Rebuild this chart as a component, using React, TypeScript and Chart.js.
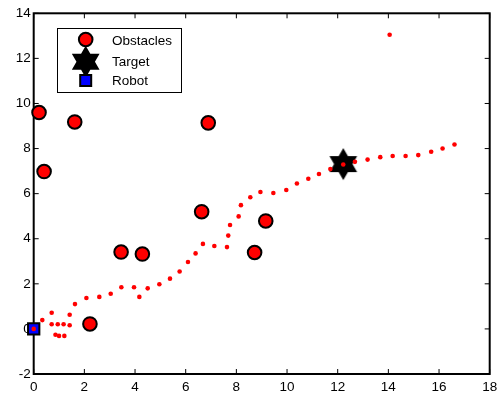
import React, { useEffect, useRef } from "react";
import { Chart, registerables } from "chart.js";
Chart.register(...registerables);

const xTicks = [0, 2, 4, 6, 8, 10, 12, 14, 16, 18];
const yTicks = [-2, 0, 2, 4, 6, 8, 10, 12, 14];

const obstacleX = [0.21, 0.41, 1.62, 6.89, 6.63, 3.45, 4.29, 2.22, 8.72, 9.16];
const obstacleY = [9.6, 6.98, 9.18, 9.14, 5.2, 3.41, 3.32, 0.22, 3.39, 4.79];

const targetX = [12.22];
const targetY = [7.31];

const robotX = [0];
const robotY = [0];

const pathX = [0, 0.34, 0.71, 0.71, 0.86, 0.95, 1.0, 1.18, 1.21, 1.42, 1.42, 1.63, 2.08, 2.59, 3.04, 3.46, 3.96, 4.17, 4.5, 4.96, 5.38, 5.76, 6.09, 6.39, 6.68, 7.13, 7.63, 7.68, 7.75, 8.09, 8.18, 8.55, 8.95, 9.46, 9.97, 10.39, 10.84, 11.26, 11.71, 12.22, 12.68, 13.18, 13.68, 14.17, 14.68, 15.18, 15.69, 16.14, 16.61, 14.05];
const pathY = [0, 0.39, 0.72, 0.21, -0.26, 0.21, -0.31, 0.21, -0.31, 0.16, 0.63, 1.1, 1.37, 1.42, 1.56, 1.85, 1.85, 1.42, 1.8, 1.98, 2.23, 2.55, 2.97, 3.35, 3.77, 3.68, 3.63, 4.14, 4.61, 4.99, 5.49, 5.84, 6.07, 6.03, 6.16, 6.45, 6.66, 6.87, 7.09, 7.29, 7.41, 7.51, 7.62, 7.67, 7.67, 7.71, 7.86, 8.0, 8.18, 13.05];

const legendLabels = ["Obstacles", "Target", "Robot"];

const FONT = 'Arial, "Liberation Sans", sans-serif';
const STAR_R = 16;

function hexagramPath(ctx: CanvasRenderingContext2D, cx: number, cy: number, R: number) {
  const r = R / Math.sqrt(3);
  ctx.beginPath();
  for (let i = 0; i < 12; i++) {
    const ang = (-90 + i * 30) * Math.PI / 180;
    const rad = i % 2 === 0 ? R : r;
    const x = cx + rad * Math.cos(ang);
    const y = cy + rad * Math.sin(ang);
    if (i === 0) ctx.moveTo(x, y);
    else ctx.lineTo(x, y);
  }
  ctx.closePath();
}

function makeStar(R: number): HTMLCanvasElement {
  const c = document.createElement("canvas");
  const s = Math.ceil(2 * R + 2);
  c.width = s;
  c.height = s;
  const ctx = c.getContext("2d")!;
  hexagramPath(ctx, s / 2, s / 2, R);
  ctx.fillStyle = "#000";
  ctx.fill();
  return c;
}

const toPts = (xs: number[], ys: number[]) => xs.map((x, i) => ({ x, y: ys[i] }));

const zeroPad = (s: any) => {
  s.paddingLeft = 0;
  s.paddingRight = 0;
  s.paddingTop = 0;
  s.paddingBottom = 0;
};

const boxPlugin = {
  id: "matlabBox",
  beforeDatasetsDraw(chart: any) {
    const { ctx, chartArea: a, scales } = chart;
    ctx.save();
    ctx.strokeStyle = "#000";
    ctx.lineWidth = 1;
    const tl = 5;
    const line = (x1: number, y1: number, x2: number, y2: number) => {
      ctx.beginPath();
      ctx.moveTo(x1, y1);
      ctx.lineTo(x2, y2);
      ctx.stroke();
    };
    for (const v of xTicks) {
      const px = scales.x.getPixelForValue(v);
      line(px, a.bottom, px, a.bottom - tl);
      line(px, a.top, px, a.top + tl);
    }
    for (const v of yTicks) {
      const py = scales.y.getPixelForValue(v);
      line(a.left, py, a.left + tl, py);
      line(a.right, py, a.right - tl, py);
    }
    ctx.lineWidth = 2;
    ctx.strokeRect(a.left, a.top, a.right - a.left, a.bottom - a.top);
    ctx.restore();
  },
  afterDraw(chart: any) {
    const { ctx } = chart;
    ctx.save();
    const L = 57, T = 28, W = 124, H = 64;
    ctx.fillStyle = "#fff";
    ctx.fillRect(L, T, W, H);
    ctx.strokeStyle = "#000";
    ctx.lineWidth = 1;
    ctx.strokeRect(L + 0.5, T + 0.5, W, H);
    const mx = 85.7;
    const rows = [39.5, 61.7, 80.5];
    hexagramPath(ctx, mx, rows[1], STAR_R);
    ctx.fillStyle = "#000";
    ctx.fill();
    ctx.beginPath();
    ctx.arc(mx, rows[0], 6.8, 0, Math.PI * 2);
    ctx.fillStyle = "#ff0000";
    ctx.fill();
    ctx.lineWidth = 2;
    ctx.strokeStyle = "#000";
    ctx.stroke();
    const s = 11;
    ctx.fillStyle = "#0000ff";
    ctx.fillRect(mx - s / 2, rows[2] - s / 2, s, s);
    ctx.strokeRect(mx - s / 2, rows[2] - s / 2, s, s);
    ctx.fillStyle = "#000";
    ctx.font = `13.5px ${FONT}`;
    ctx.textBaseline = "middle";
    ctx.textAlign = "left";
    const ty = [41, 62, 81.5];
    legendLabels.forEach((t, i) => ctx.fillText(t, 112, ty[i]));
    ctx.restore();
  },
};

export default function App() {
  const ref = useRef<HTMLCanvasElement | null>(null);
  useEffect(() => {
    if (!ref.current) return;
    const star = makeStar(STAR_R);
    const chart = new Chart(ref.current, {
      type: "scatter",
      data: {
        datasets: [
          {
            label: "path",
            data: toPts(pathX, pathY),
            pointRadius: 2.3,
            pointBackgroundColor: "#ff0000",
            pointBorderWidth: 0,
            pointBorderColor: "#ff0000",
            clip: false,
            order: 0,
          },
          {
            label: legendLabels[2],
            data: toPts(robotX, robotY),
            pointStyle: "rect",
            pointRadius: 8,
            pointBackgroundColor: "#0000ff",
            pointBorderColor: "#000",
            pointBorderWidth: 2,
            clip: false,
            order: 1,
          },
          {
            label: legendLabels[1],
            data: toPts(targetX, targetY),
            pointStyle: star as any,
            pointRadius: STAR_R,
            clip: false,
            order: 2,
          },
          {
            label: legendLabels[0],
            data: toPts(obstacleX, obstacleY),
            pointRadius: 6.8,
            pointBackgroundColor: "#ff0000",
            pointBorderColor: "#000",
            pointBorderWidth: 2,
            clip: false,
            order: 3,
          },
        ] as any,
      },
      options: {
        animation: false,
        responsive: false,
        events: [],
        layout: { autoPadding: false, padding: { top: 13.3, right: 9.3, left: 0, bottom: 0 } },
        plugins: { legend: { display: false }, tooltip: { enabled: false } },
        scales: {
          x: {
            type: "linear",
            min: 0,
            max: 18,
            afterBuildTicks: (s: any) => {
              s.ticks = xTicks.map((v) => ({ value: v }));
            },
            afterFit: (s: any) => {
              s.height = 23;
              zeroPad(s);
            },
            ticks: {
              font: { family: FONT, size: 13.5 },
              color: "#000",
              padding: 5,
              maxRotation: 0,
              autoSkip: false,
            },
            grid: { display: false, drawTicks: false },
            border: { display: false },
          },
          y: {
            type: "linear",
            min: -2,
            max: 14,
            afterBuildTicks: (s: any) => {
              s.ticks = yTicks.map((v) => ({ value: v }));
            },
            afterFit: (s: any) => {
              s.width = 33.7;
              zeroPad(s);
            },
            ticks: {
              font: { family: FONT, size: 13.5 },
              color: "#000",
              padding: 3,
              autoSkip: false,
            },
            grid: { display: false, drawTicks: false },
            border: { display: false },
          },
        },
      },
      plugins: [boxPlugin],
    });
    return () => chart.destroy();
  }, []);
  return (
    <div style={{ position: "fixed", left: 0, top: 0, width: 499, height: 397, background: "#fff" }}>
      <canvas ref={ref} width={499} height={397} style={{ width: 499, height: 397, display: "block" }} />
    </div>
  );
}
